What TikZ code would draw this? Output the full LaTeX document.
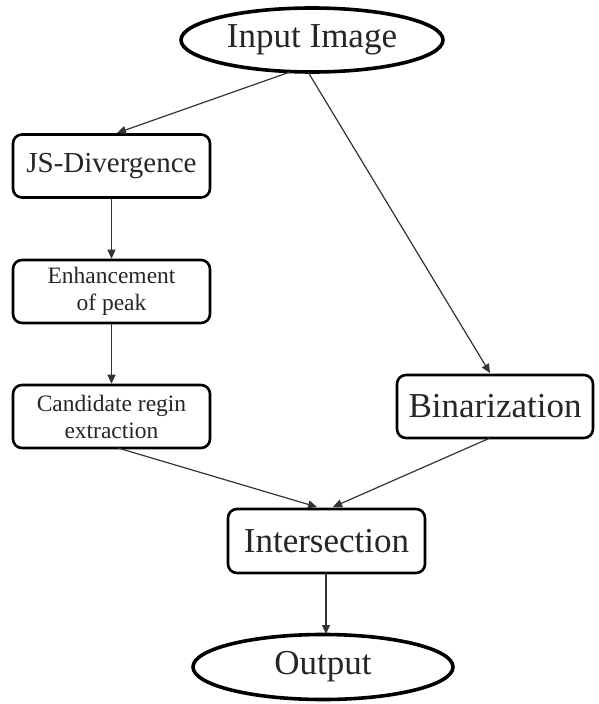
\documentclass[tikz,border=0pt]{standalone}
\usepackage{fontspec}
\setmainfont{Liberation Serif}
\usetikzlibrary{shapes.geometric,arrows.meta,calc}
\tikzset{
  boxnode/.style={draw, rounded corners=9pt, line width=2.6pt, minimum width=197pt, minimum height=63pt, inner sep=0pt, align=center, text=black!85},
  ellnode/.style={draw, ellipse, line width=3.6pt, inner sep=0pt, text=black!85},
  bigtext/.style={font=\fontsize{35}{38}\selectfont},
  midtext/.style={font=\fontsize{29}{32}\selectfont},
  smalltext/.style={font=\fontsize{23.5}{27}\selectfont},
  conn/.style={line width=1.2pt, draw=black!80, -{Triangle[length=9pt,width=8pt]}}
}
\begin{document}
\begin{tikzpicture}[x=1pt,y=-1pt]
\useasboundingbox (0,0) rectangle (599,704);
\node[ellnode, bigtext, minimum width=262pt, minimum height=64pt] (in) at (312,40) {Input Image};
\node[boxnode, midtext] (js) at (111.5,166) {JS-Divergence};
\node[boxnode, smalltext] (enh) at (111.5,291.5) {Enhancement\\of peak};
\node[boxnode, smalltext] (cand) at (111.5,416.5) {Candidate regin\\extraction};
\node[boxnode, bigtext, minimum width=196pt] (bin) at (495,406.5) {Binarization};
\node[boxnode, bigtext, minimum height=64pt] (inter) at (326.5,541) {Intersection};
\node[ellnode, bigtext, minimum width=260pt, minimum height=65pt] (out) at (323,667) {Output};

\coordinate (s1) at (290,72);
\coordinate (s2) at (308,72);
\coordinate (t1) at (117,133);
\coordinate (t2) at (490,373);
\coordinate (s3) at (118,448);
\coordinate (s4) at (490,438);
\coordinate (t3) at (317,507);
\coordinate (t4) at (333,507);
\coordinate (s5) at (326,573);
\coordinate (t5) at (326,634);

\draw[conn] (s1) -- (t1);
\draw[conn] (s2) -- (t2);
\draw[conn] (js.south) -- (enh.north);
\draw[conn] (enh.south) -- (cand.north);
\draw[conn] (s3) -- (t3);
\draw[conn] (s4) -- (t4);
\draw[conn] (s5) -- (t5);
\end{tikzpicture}
\end{document}
